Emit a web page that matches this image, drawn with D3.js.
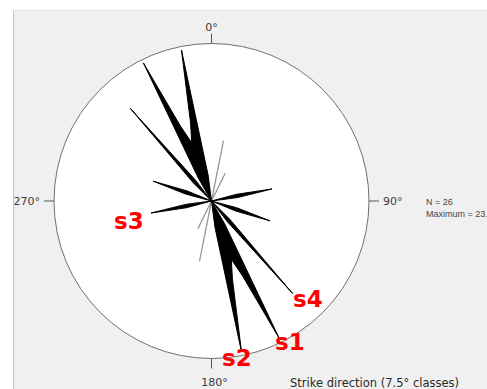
<!DOCTYPE html>
<html><head><meta charset="utf-8">
<script src="https://cdn.jsdelivr.net/npm/d3@7"></script>
<style>html,body{margin:0;padding:0;background:#fff;overflow:hidden}</style>
</head><body><svg id="chart" width="487" height="389"></svg>
<script>
// ---- data ----
const classWidth = 7.5;
const strikeClasses = [78.75, 108.75, 138.75, 153.75, 161.25, 168.75]; // class centres (deg)
const strikeCounts  = [2, 2, 4, 5, 2, 5];
const minorClasses  = [11.25, 26.25];
const minorCounts   = [2, 1];
const axisAngles = [0, 90, 180, 270];
const axisLabels = ["0°", "90°", "180°", "270°"];
const markerLabels = ["s1", "s2", "s3", "s4"];
const statLines = ["N = 26", "Maximum = 23.1 %"];
const xTitle = "Strike direction (7.5° classes)";

// ---- layout ----
const W = 487, H = 389;
const cx = 211.5, cy = 201, R = 157.5;
const svg = d3.select("#chart");

svg.append("rect").attr("x", 13).attr("y", 10).attr("width", W - 13).attr("height", H - 10).attr("fill", "#f0f0f0");
svg.append("line").attr("x1", 13.5).attr("x2", 13.5).attr("y1", 10).attr("y2", H).attr("stroke", "#c4c4c4");
svg.append("line").attr("x1", 13).attr("x2", W).attr("y1", 10.5).attr("y2", 10.5).attr("stroke", "#e2e2e2");

const g = svg.append("g").attr("transform", `translate(${cx},${cy})`);
g.append("circle").attr("r", R).attr("fill", "#fff").attr("stroke", "#707070").attr("stroke-width", 1);

const rad = d => d * Math.PI / 180;
const rScale = d3.scaleLinear().domain([0, d3.max(strikeCounts)]).range([0, 154]);

// ticks
g.selectAll("line.tick").data(axisAngles).join("line").attr("class", "tick")
  .attr("x1", a => R * Math.sin(rad(a))).attr("y1", a => -R * Math.cos(rad(a)))
  .attr("x2", a => (R + 10) * Math.sin(rad(a))).attr("y2", a => -(R + 10) * Math.cos(rad(a)))
  .attr("stroke", "#555").attr("stroke-width", 1);

const labelCfg = [
  {dx: 0, gap: 13, anchor: "middle", base: 0},
  {dx: 2, gap: 12, anchor: "start", base: 4},
  {dx: 3, gap: 27, anchor: "middle", base: 0},
  {dx: -2, gap: 12, anchor: "end", base: 4}
];
g.selectAll("text.ax").data(axisAngles).join("text").attr("class", "ax")
  .attr("x", (a, i) => (R + labelCfg[i].gap) * Math.sin(rad(a)) + labelCfg[i].dx)
  .attr("y", (a, i) => -(R + labelCfg[i].gap) * Math.cos(rad(a)) + labelCfg[i].base)
  .attr("text-anchor", (a, i) => labelCfg[i].anchor)
  .attr("font-family", "DejaVu Sans").attr("font-size", 11).attr("fill", "#3a3a3a")
  .text((a, i) => axisLabels[i]);

// counts per class, bidirectional
const nBins = Math.round(360 / classWidth);
const counts = new Array(nBins).fill(0);
strikeClasses.forEach((c, i) => {
  const b = Math.floor(c / classWidth);
  counts[b] = strikeCounts[i];
  counts[(b + nBins / 2) % nBins] = strikeCounts[i];
});
const pts = [];
for (let i = 0; i < nBins; i++) {
  const prev = counts[(i + nBins - 1) % nBins], cur = counts[i];
  let e = 0;
  if (prev > 0 && cur > 0) e = 0.75 * (prev + cur) / 2;
  else if (prev > 0 || cur > 0) e = 0.85;
  pts.push({a: i * classWidth, v: e});
  pts.push({a: i * classWidth + classWidth / 2, v: cur});
}
const radial = d3.lineRadial().angle(d => rad(d.a)).radius(d => rScale(d.v)).curve(d3.curveLinearClosed);

// minor classes (grey)
const minorData = [];
minorClasses.forEach((c, i) => { minorData.push({a: c, v: minorCounts[i]}); minorData.push({a: c + 180, v: minorCounts[i]}); });
g.selectAll("line.minor").data(minorData).join("line").attr("class", "minor")
  .attr("x1", 0).attr("y1", 0)
  .attr("x2", d => rScale(d.v) * Math.sin(rad(d.a))).attr("y2", d => -rScale(d.v) * Math.cos(rad(d.a)))
  .attr("stroke", "#9a9a9a").attr("stroke-width", 1.3);

g.append("path").attr("d", radial(pts)).attr("fill", "#000").attr("stroke", "#000")
  .attr("stroke-width", 1).attr("stroke-linejoin", "round");

// red markers
const markerPos = [[275, 350], [222, 366], [114, 228.5], [293, 306.5]];
svg.selectAll("text.mk").data(markerLabels).join("text").attr("class", "mk")
  .attr("x", (d, i) => markerPos[i][0]).attr("y", (d, i) => markerPos[i][1])
  .attr("font-family", "DejaVu Sans").attr("font-weight", "bold").attr("font-size", 23)
  .attr("fill", "#ff0000").text(d => d);

// stats (the second line runs past the window edge, as in the original)
svg.selectAll("text.st").data(statLines).join("text").attr("class", "st")
  .attr("x", 426).attr("y", (d, i) => 205 + i * 12)
  .attr("font-family", "Liberation Sans").attr("font-size", 9).attr("fill", "#444").text(d => d);

svg.append("text").attr("x", 290).attr("y", 386.5)
  .attr("font-family", "DejaVu Sans").attr("font-size", 11.5).attr("fill", "#2a2a2a").text(xTitle);
</script></body></html>
